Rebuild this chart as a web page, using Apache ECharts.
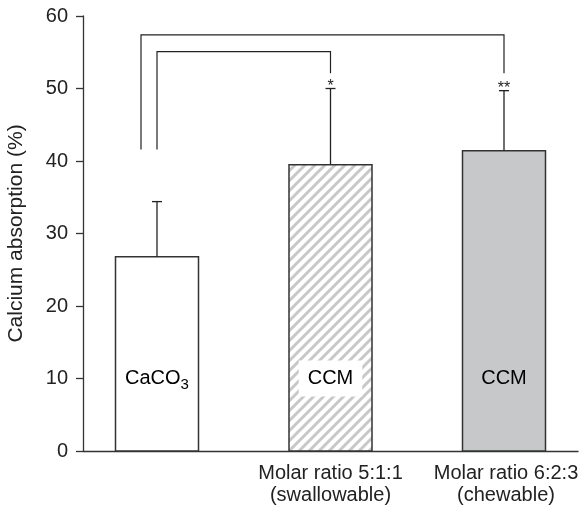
<!DOCTYPE html>
<html>
<head>
<meta charset="utf-8">
<script src="https://cdn.jsdelivr.net/npm/echarts@6/dist/echarts.min.js"></script>
<style>
  html, body { margin: 0; padding: 0; background: #fff; }
  #main { width: 584px; height: 516px; }
</style>
</head>
<body>
<div id="main"></div>
<script>
// data
var categories = ['', 'Molar ratio 5:1:1\n(swallowable)', 'Molar ratio 6:2:3\n(chewable)'];
var barNames = ['CaCO3', 'CCM', 'CCM'];
var means = [26.8, 39.5, 41.4];
var errors = [7.6, 10.5, 8.3];
var stars = ['', '*', '**'];
// [from bar, to bar, left foot, top, right foot]
var brackets = [
	[0, 2, 41.6, 57.4, 52.1],
	[0, 1, 41.6, 55.1, 52.1]
];
var yMin = 0, yMax = 60, yStep = 10;

var font = 'Liberation Sans, Arial, sans-serif';
var ink = '#222';
var barWidth = 83;
var barShift = 8.5;      // bars sit a little wider apart than the category ticks
var bracketNudge = [-16, 0];

// diagonal hatching for the swallowable bar
function hatch() {
	var c = document.createElement('canvas');
	var s = 10;
	c.width = s; c.height = s;
	var g = c.getContext('2d');
	g.fillStyle = '#fff';
	g.fillRect(0, 0, s, s);
	g.strokeStyle = '#c8c8c8';
	g.lineWidth = 3;
	g.beginPath();
	g.moveTo(-s / 2, s / 2); g.lineTo(s / 2, -s / 2);
	g.moveTo(0, s); g.lineTo(s, 0);
	g.moveTo(s / 2, s * 1.5); g.lineTo(s * 1.5, s / 2);
	g.stroke();
	return c;
}
var fills = ['#ffffff', { image: hatch(), repeat: 'repeat' }, '#c7c8ca'];

function barX(api, idx) {
	return api.coord([idx, 0])[0] + (idx - 1) * barShift;
}

var dom = document.getElementById('main');
var chart = echarts.init(dom);

var option = {
	animation: false,
	grid: { left: 83, right: 6, top: 16, bottom: 65, outerBoundsMode: 'none' },
	xAxis: {
		type: 'category',
		data: categories.map(function (c, i) {
			return i === 2 ? { value: c, textStyle: { padding: [0, 0, 0, 21] } } : c;
		}),
		axisLine: { lineStyle: { color: '#333', width: 1.3 } },
		axisTick: { length: 6, lineStyle: { color: '#333', width: 1.3 } },
		axisLabel: { color: ink, fontFamily: font, fontSize: 20, lineHeight: 22, margin: 11, interval: 0 }
	},
	yAxis: {
		type: 'value',
		min: yMin,
		max: yMax,
		interval: yStep,
		name: 'Calcium absorption (%)',
		nameLocation: 'middle',
		nameGap: 56,
		nameTextStyle: { color: ink, fontFamily: font, fontSize: 21 },
		splitLine: { show: false },
		axisLine: { show: true, lineStyle: { color: '#333', width: 1.3 } },
		axisTick: { show: true, length: 7, lineStyle: { color: '#333', width: 1.3 } },
		axisLabel: { color: ink, fontFamily: font, fontSize: 20, margin: 15 }
	},
	series: [{
		// bars
		type: 'custom',
		data: means.map(function (v, i) { return [i, v]; }),
		encode: { x: 0, y: 1 },
		z: 2,
		renderItem: function (params, api) {
			var idx = api.value(0);
			var x = barX(api, idx);
			var top = api.coord([idx, api.value(1)])[1];
			var base = api.coord([idx, 0])[1];
			var lab = api.coord([idx, 10])[1];
			var name = barNames[idx];
			var text = name === 'CaCO3' ? '{m|CaCO}{s|3}' : '{m|' + name + '}';
			return {
				type: 'group',
				children: [{
					type: 'rect',
					shape: { x: x - barWidth / 2, y: top, width: barWidth, height: base - top },
					style: { fill: fills[idx], stroke: '#333', lineWidth: 1.5 }
				}, {
					type: 'text',
					x: x,
					y: lab,
					style: {
						text: text,
						align: 'center',
						verticalAlign: 'middle',
						backgroundColor: idx === 1 ? '#fff' : null,
						padding: idx === 1 ? [7, 9] : 0,
						rich: {
							m: { fontFamily: font, fontSize: 20, color: ink, lineHeight: 22 },
							s: { fontFamily: font, fontSize: 15, color: ink, lineHeight: 22, padding: [12, 0, 0, 0] }
						}
					}
				}]
			};
		}
	}, {
		// error bars and significance stars
		type: 'custom',
		data: means.map(function (v, i) { return [i, v, v + errors[i]]; }),
		encode: { x: 0, y: [1, 2] },
		z: 3,
		renderItem: function (params, api) {
			var idx = api.value(0);
			var x = barX(api, idx);
			var lo = api.coord([idx, api.value(1)])[1];
			var hi = api.coord([idx, api.value(2)])[1];
			var st = { stroke: ink, lineWidth: 1.3 };
			return {
				type: 'group',
				children: [{
					type: 'line', shape: { x1: x, y1: lo, x2: x, y2: hi }, style: st
				}, {
					type: 'line', shape: { x1: x - 5, y1: hi, x2: x + 5, y2: hi }, style: st
				}, {
					type: 'text',
					x: x,
					y: hi - 10,
					style: { text: stars[idx], align: 'center', verticalAlign: 'top', fontFamily: font, fontSize: 16, fill: ink }
				}]
			};
		}
	}, {
		// comparison brackets
		type: 'custom',
		data: brackets,
		encode: { x: [0, 1], y: [2, 3, 4] },
		z: 3,
		renderItem: function (params, api) {
			var a = api.value(0), b = api.value(1);
			var x1 = barX(api, a) + bracketNudge[params.dataIndex];
			var x2 = barX(api, b);
			return {
				type: 'polyline',
				shape: {
					points: [
						[x1, api.coord([a, api.value(2)])[1]],
						[x1, api.coord([a, api.value(3)])[1]],
						[x2, api.coord([b, api.value(3)])[1]],
						[x2, api.coord([b, api.value(4)])[1]]
					]
				},
				style: { fill: null, stroke: ink, lineWidth: 1.2 }
			};
		}
	}]
};

chart.setOption(option);
</script>
</body>
</html>
